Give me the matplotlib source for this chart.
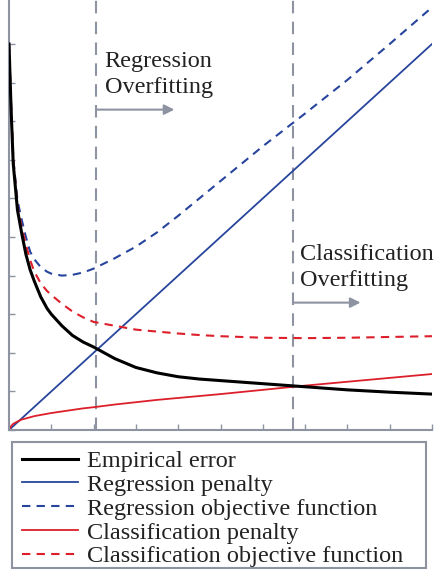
import matplotlib
matplotlib.use("Agg")
import matplotlib.pyplot as plt
from matplotlib.patches import Rectangle
import numpy as np

# curve samples
x = [0, 0.05, 0.1, 0.2, 0.3, 0.4, 0.5, 0.6, 0.75, 0.9, 1, 1.25, 1.5, 1.75,
     2, 2.5, 3, 3.5, 4, 4.5, 5, 6, 7, 8, 9, 10]
empirical = [10.0, 8.3, 6.9, 5.7, 5.1, 4.55, 4.15, 3.85, 3.45, 3.15, 3.0,
             2.7, 2.45, 2.28, 2.15, 1.85, 1.62, 1.48, 1.38, 1.32, 1.28,
             1.2, 1.12, 1.04, 0.98, 0.93]
reg_pen = [0.0, 0.05, 0.1, 0.2, 0.3, 0.4, 0.5, 0.6, 0.75, 0.9, 1.0, 1.25,
           1.5, 1.75, 2.0, 2.5, 3.0, 3.5, 4.0, 4.5, 5.0, 6.0, 7.0, 8.0,
           9.0, 10.0]
reg_obj = [10.0, 8.4, 7.05, 5.95, 5.45, 5.0, 4.62, 4.42, 4.22, 4.1, 4.05,
           4.0, 4.02, 4.08, 4.18, 4.45, 4.75, 5.12, 5.55, 6.0, 6.45, 7.35,
           8.2, 9.07, 10.0, 10.95]
cls_pen = [0.0, 0.1, 0.16, 0.22, 0.27, 0.3, 0.33, 0.36, 0.39, 0.42, 0.44,
           0.48, 0.52, 0.56, 0.59, 0.66, 0.72, 0.78, 0.83, 0.88, 0.93,
           1.04, 1.15, 1.25, 1.35, 1.45]
cls_obj = [10.0, 8.4, 7.05, 5.8, 5.25, 4.8, 4.4, 4.1, 3.8, 3.6, 3.5, 3.27,
           3.07, 2.92, 2.8, 2.7, 2.6, 2.55, 2.5, 2.46, 2.43, 2.39, 2.38,
           2.39, 2.41, 2.43]

reg_cut = 2.06
cls_cut = 6.71

plt.rcParams["font.family"] = ["Liberation Serif", "DejaVu Serif"]

GRAY = "#8d93a0"
BLUE = "#27459c"
RED = "#dc1f2a"

fig = plt.figure(figsize=(4.36, 5.73), dpi=100)
ax = fig.add_axes([9 / 436, 143 / 573, 423 / 436, 430 / 573])

ax.plot(x, empirical, color="black", lw=2.2, label="Empirical error", zorder=5)
ax.plot(x, reg_pen, color=BLUE, lw=1.3, label="Regression penalty")
ax.plot(x, reg_obj, color=BLUE, lw=1.5, dashes=(4, 3),
        label="Regression objective function")
ax.plot(x, cls_pen, color=RED, lw=1.3, label="Classification penalty")
ax.plot(x, cls_obj, color=RED, lw=1.5, dashes=(4, 3),
        label="Classification objective function")

for c in (reg_cut, cls_cut):
    ax.axvline(c, color=GRAY, lw=1.5, dashes=(6, 4), zorder=1)

# overfitting arrows + labels
arrow = dict(arrowstyle="-|>,head_width=0.3,head_length=0.6",
             color=GRAY, lw=1.5, shrinkA=0, shrinkB=0)
ax.annotate("", xy=(reg_cut + 1.85, 8.3), xytext=(reg_cut, 8.3), arrowprops=arrow)
ax.text(reg_cut + 0.2, 9.82, "Regression\nOverfitting", fontsize=17.5,
        color="#222222", va="top", ha="left", linespacing=1.3)

ax.annotate("", xy=(cls_cut + 1.6, 3.3), xytext=(cls_cut, 3.3), arrowprops=arrow)
ax.text(cls_cut + 0.17, 4.83, "Classification\nOverfitting", fontsize=17.5,
        color="#222222", va="top", ha="left", linespacing=1.35)

ax.set_xlim(0, 10)
ax.set_ylim(0, 430 / 38.6)
ax.set_xticks(np.arange(0, 11, 1))
ax.set_yticks(np.arange(0, 11, 1))
ax.set_xticklabels([])
ax.set_yticklabels([])
ax.tick_params(direction="in", length=4, color=GRAY, width=1)
for s in ("top", "right"):
    ax.spines[s].set_visible(False)
for s in ("left", "bottom"):
    ax.spines[s].set_color(GRAY)
    ax.spines[s].set_linewidth(1.5)

# legend box drawn separately so the entries can sit a little low, like the original
fig.patches.append(Rectangle((12 / 436, 5 / 573), 414 / 436, 126 / 573,
                             transform=fig.transFigure, fill=False,
                             edgecolor=GRAY, linewidth=1.5))
leg = fig.legend(loc="upper left", bbox_to_anchor=(22 / 436, 1 - 450 / 573),
                 fontsize=17.5, frameon=False,
                 handlelength=2.3, handletextpad=0.37, labelspacing=0.075,
                 borderpad=0, borderaxespad=0)
for t in leg.get_texts():
    t.set_color("#222222")

fig.savefig("out.png", dpi=100)
